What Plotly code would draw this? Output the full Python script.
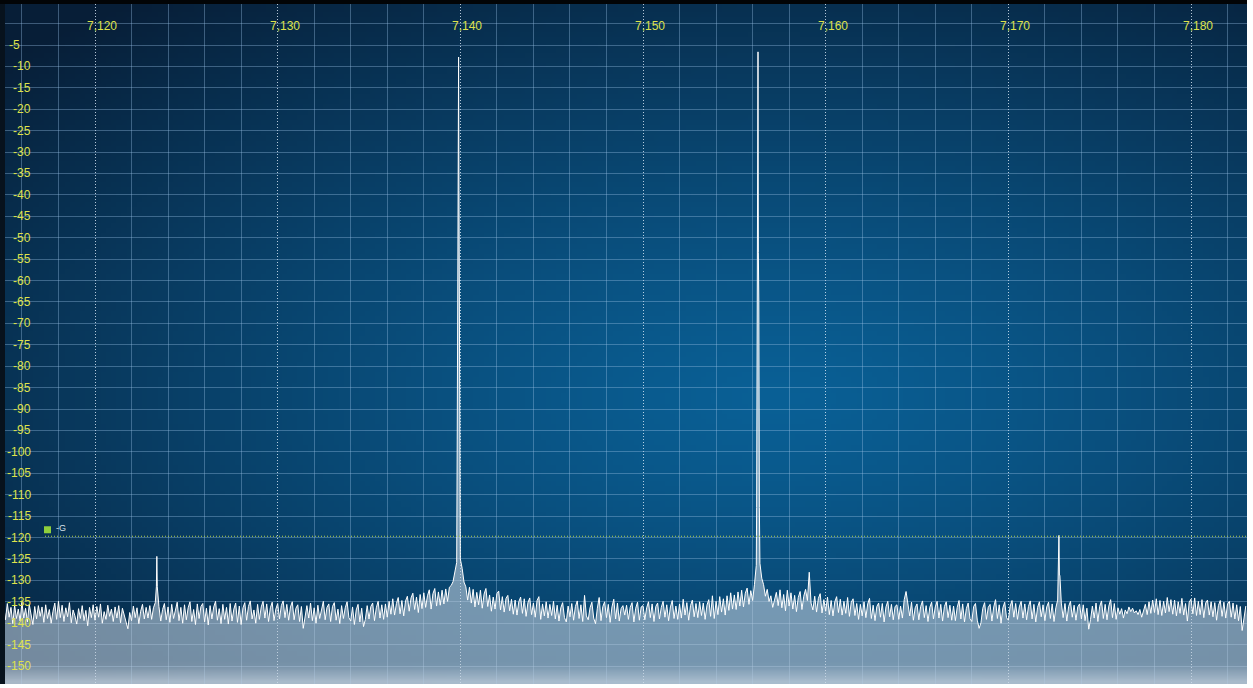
import base64
import struct
import zlib

import numpy as np
import plotly.graph_objects as go

# ---------------------------------------------------------------- data
# Sweep: 7115.0 kHz to 7183.0 kHz, one sample every 0.1 kHz (dBm)
F_START = 7115.0
F_STEP = 0.1

noise_db = [
    # 7115
    -136.0, -139.2, -135.4, -138.6, -136.3, -140.1, -135.8, -138.9, -136.7, -139.5,
    # 7116
    -135.1, -138.8, -136.5, -139.7, -135.6, -138.2, -140.3, -136.1, -139.0, -135.9,
    # 7117
    -138.4, -136.2, -139.8, -135.7, -138.9, -136.8, -140.0, -137.2, -135.3, -139.1,
    # 7118
    -134.9, -138.7, -135.8, -139.6, -136.4, -138.5, -135.2, -139.9, -136.9, -138.3,
    # 7119
    -140.2, -136.6, -138.9, -135.9, -139.4, -137.0, -140.6, -136.3, -138.7, -135.7,
    # 7120
    -139.3, -136.1, -138.6, -135.5, -140.0, -137.3, -139.1, -135.8, -138.4, -136.7,
    # 7121
    -139.6, -136.2, -138.8, -135.9, -139.9, -136.5, -138.3, -140.2, -141.3, -137.5,
    # 7122
    -139.4, -136.0, -138.7, -136.4, -140.1, -137.2, -135.6, -139.0, -136.3, -138.8,
    # 7123
    -135.9, -139.1, -136.4, -135.2, -134.8, -136.1, -139.5, -136.8, -135.4, -139.2,
    # 7124
    -136.2, -139.8, -135.6, -138.9, -136.9, -135.1, -139.4, -136.3, -140.0, -135.7,
    # 7125
    -139.2, -136.4, -135.0, -139.6, -136.8, -140.3, -135.5, -138.9, -136.1, -135.4,
    # 7126
    -139.7, -136.5, -140.4, -135.9, -139.0, -136.2, -134.9, -139.3, -136.6, -140.1,
    # 7127
    -135.6, -139.1, -136.3, -140.2, -135.4, -139.5, -136.7, -135.3, -139.8, -136.0,
    # 7128
    -140.3, -136.4, -135.2, -139.3, -136.1, -134.8, -139.0, -136.9, -140.0, -135.6,
    # 7129
    -139.1, -136.2, -134.9, -138.8, -135.5, -139.6, -136.4, -135.1, -139.4, -136.7,
    # 7130
    -135.4, -139.0, -135.9, -134.8, -138.7, -135.6, -139.3, -136.2, -135.0, -139.2,
    # 7131
    -136.5, -135.7, -139.6, -136.1, -141.2, -139.0, -135.9, -138.8, -135.3, -139.4,
    # 7132
    -136.4, -140.0, -135.8, -138.9, -136.6, -134.9, -139.2, -136.3, -135.5, -139.6,
    # 7133
    -136.1, -135.2, -139.3, -136.7, -140.1, -135.9, -138.9, -136.4, -135.0, -138.7,
    # 7134
    -139.5, -136.2, -140.3, -136.9, -135.6, -139.7, -136.5, -140.8, -139.1, -135.9,
    # 7135
    -139.0, -136.1, -135.3, -139.4, -136.4, -134.9, -138.8, -135.7, -139.1, -135.5,
    # 7136
    -138.6, -134.9, -137.9, -134.3, -138.1, -135.4, -134.0, -137.8, -134.7, -138.3,
    # 7137
    -134.8, -133.7, -137.2, -134.1, -133.0, -136.8, -133.9, -137.5, -133.3, -136.6,
    # 7138
    -132.9, -136.3, -133.6, -132.2, -136.7, -133.1, -131.9, -136.0, -132.7, -135.8,
    # 7139
    -132.3, -135.5, -132.0, -134.9, -131.6, -131.2, -130.3, -128.4, -125.8, -124.5,
    # 7140
    -125.0, -127.2, -130.4, -131.5, -134.6, -131.6, -135.3, -132.1, -136.2, -132.8,
    # 7141
    -135.7, -132.3, -136.5, -133.2, -131.9, -136.1, -133.4, -137.2, -133.9, -136.7,
    # 7142
    -133.1, -132.5, -136.9, -133.8, -137.4, -134.2, -133.5, -137.1, -134.4, -137.9,
    # 7143
    -134.6, -138.1, -135.0, -133.9, -137.7, -134.3, -138.4, -135.2, -134.1, -138.0,
    # 7144
    -135.3, -138.6, -134.7, -133.8, -139.1, -135.5, -138.3, -135.0, -138.8, -135.6,
    # 7145
    -138.2, -134.9, -139.0, -135.8, -139.5, -136.4, -135.2, -138.7, -139.7, -136.0,
    # 7146
    -138.5, -135.4, -139.3, -136.1, -134.8, -138.9, -135.7, -139.6, -133.5, -138.3,
    # 7147
    -139.2, -136.4, -135.1, -138.8, -140.1, -136.5, -134.0, -139.4, -136.1, -135.0,
    # 7148
    -138.7, -135.6, -139.8, -136.2, -134.4, -139.0, -135.3, -139.5, -136.6, -135.9,
    # 7149
    -138.1, -135.8, -139.1, -136.3, -135.2, -139.7, -136.5, -135.1, -139.3, -136.2,
    # 7150
    -135.9, -139.2, -136.4, -135.0, -138.7, -135.5, -139.6, -136.1, -135.3, -139.0,
    # 7151
    -136.3, -134.9, -138.6, -135.7, -139.4, -136.2, -134.7, -138.9, -136.0, -139.1,
    # 7152
    -135.5, -138.8, -134.4, -138.1, -135.2, -139.3, -135.9, -134.6, -138.5, -135.4,
    # 7153
    -138.7, -135.0, -138.2, -135.3, -139.1, -135.8, -134.5, -138.4, -133.6, -138.9,
    # 7154
    -134.9, -138.0, -133.8, -137.4, -134.3, -138.1, -133.6, -137.0, -132.9, -136.7,
    # 7155
    -133.4, -136.8, -132.7, -136.0, -132.3, -136.2, -133.0, -131.8, -135.6, -132.4,
    # 7156
    -134.7, -131.0, -126.5, -124.0, -126.0, -129.5, -131.0, -133.7, -132.1, -134.9,
    # 7157
    -133.6, -136.3, -134.1, -132.8, -135.9, -132.2, -136.4, -133.3, -137.1, -132.3,
    # 7158
    -136.0, -132.9, -136.7, -133.5, -137.3, -134.0, -132.6, -136.8, -133.7, -132.1,
    # 7159
    -134.7, -128.1, -135.3, -136.9, -133.7, -137.4, -134.2, -133.1, -137.6, -134.5,
    # 7160
    -137.2, -133.9, -138.0, -134.7, -138.3, -135.0, -133.8, -137.5, -134.4, -138.1,
    # 7161
    -134.9, -137.7, -134.0, -138.4, -135.1, -134.3, -138.2, -135.4, -139.1, -135.6,
    # 7162
    -138.3, -135.0, -138.7, -135.5, -134.2, -138.9, -135.8, -139.4, -136.1, -135.3,
    # 7163
    -138.6, -135.4, -139.7, -136.2, -134.9, -138.5, -135.6, -139.2, -136.1, -135.7,
    # 7164
    -139.1, -136.0, -138.8, -134.5, -132.6, -135.0, -138.3, -135.1, -139.3, -136.4,
    # 7165
    -135.5, -139.2, -136.1, -134.8, -138.7, -135.9, -139.6, -136.3, -135.1, -139.0,
    # 7166
    -136.2, -134.9, -138.8, -135.6, -139.5, -136.1, -135.0, -138.7, -135.8, -139.3,
    # 7167
    -136.0, -139.4, -136.3, -134.7, -139.0, -135.5, -139.7, -136.6, -135.3, -138.9,
    # 7168
    -139.6, -136.1, -135.4, -139.3, -141.2, -139.9, -136.5, -135.2, -139.1, -136.3,
    # 7169
    -135.6, -139.5, -136.2, -134.5, -138.9, -135.7, -140.0, -136.4, -135.1, -138.7,
    # 7170
    -139.3, -136.0, -134.7, -138.6, -135.4, -139.1, -136.2, -134.9, -138.8, -135.5,
    # 7171
    -139.2, -136.1, -134.8, -139.0, -135.6, -139.7, -136.3, -135.0, -138.5, -135.7,
    # 7172
    -139.4, -136.2, -135.1, -138.9, -135.5, -139.6, -136.4, -134.6, -134.0, -135.3,
    # 7173
    -138.7, -135.4, -139.5, -136.1, -134.9, -138.6, -135.8, -139.3, -136.2, -135.5,
    # 7174
    -139.0, -135.7, -139.4, -136.5, -141.4, -139.1, -136.0, -138.8, -135.3, -139.6,
    # 7175
    -136.1, -134.8, -138.9, -135.6, -139.2, -136.0, -134.5, -138.7, -135.4, -139.1,
    # 7176
    -136.4, -137.9, -136.6, -138.8, -136.9, -137.8, -136.2, -137.3, -136.5, -137.6,
    # 7177
    -137.1, -138.0, -136.8, -138.6, -136.7, -135.6, -138.0, -135.0, -137.7, -134.6,
    # 7178
    -137.5, -134.3, -138.0, -134.7, -138.2, -134.9, -137.6, -134.0, -137.3, -134.5,
    # 7179
    -137.9, -134.6, -138.3, -135.0, -137.7, -134.2, -138.1, -135.4, -139.5, -135.1,
    # 7180
    -134.4, -137.8, -134.1, -138.2, -134.9, -138.0, -134.5, -138.7, -135.3, -134.6,
    # 7181
    -138.1, -135.0, -138.5, -135.2, -139.3, -135.9, -134.7, -138.4, -135.1, -138.8,
    # 7182
    -135.5, -134.9, -138.6, -135.3, -139.0, -135.7, -139.4, -136.1, -141.7, -138.9,
    # 7183
    -136.0,
]

# Carriers, sampled finer than the sweep grid
carrier_a_khz = [7123.36, 7123.385, 7123.41]
carrier_a_db = [-131.5, -124.4, -131.5]

carrier_b_khz = [7139.83, 7139.86, 7139.885, 7139.905, 7139.925, 7139.95, 7139.98]
carrier_b_db = [-97.0, -65.0, -39.0, -7.8, -39.0, -65.0, -97.0]

carrier_c_khz = [7156.22, 7156.25, 7156.275, 7156.295, 7156.315, 7156.34, 7156.37]
carrier_c_db = [-113.0, -65.0, -53.5, -6.6, -53.5, -65.0, -113.0]

carrier_d_khz = [7172.72, 7172.745, 7172.77, 7172.795, 7172.82]
carrier_d_db = [-128.8, -128.8, -119.5, -128.8, -128.8]

squelch_db = -119.7          # "-G" threshold line
x_tick_khz = [7120, 7130, 7140, 7150, 7160, 7170, 7180]
y_tick_db = list(range(-5, -151, -5))

# ---------------------------------------------------------------- merge sweep + carriers
freqs = [round(F_START + i * F_STEP, 3) for i in range(len(noise_db))]
pairs = list(zip(freqs, noise_db))
for cf, cd in [(carrier_a_khz, carrier_a_db), (carrier_b_khz, carrier_b_db),
               (carrier_c_khz, carrier_c_db), (carrier_d_khz, carrier_d_db)]:
    lo, hi = min(cf), max(cf)
    pairs = [p for p in pairs if not (lo <= p[0] <= hi)]
    pairs += list(zip(cf, cd))
pairs.sort()
spec_f = [p[0] for p in pairs]
spec_db = [p[1] for p in pairs]

# ---------------------------------------------------------------- geometry
W, H = 1253, 688
PX_L, PX_R, PX_T, PX_B = 5, 1247, 4, 684
KHZ_PX = 18.267          # pixels per kHz
DB_PX = 4.283            # pixels per dB
x_rng = [7120 - (95 - PX_L) / KHZ_PX, 7120 + (PX_R - 95) / KHZ_PX]
y_rng = [-5 - (PX_B - 45) / DB_PX, -5 + (45 - PX_T) / DB_PX]
dom_x = [PX_L / W, PX_R / W]
dom_y = [(H - PX_B) / H, (H - PX_T) / H]


# ---------------------------------------------------------------- background gradient image
def png_uri(rgb):
    h, w, _ = rgb.shape
    raw = b"".join(b"\x00" + rgb[r].tobytes() for r in range(h))

    def chunk(tag, data):
        c = tag + data
        return struct.pack(">I", len(data)) + c + struct.pack(">I", zlib.crc32(c) & 0xFFFFFFFF)

    png = (b"\x89PNG\r\n\x1a\n"
           + chunk(b"IHDR", struct.pack(">IIBBBBB", w, h, 8, 2, 0, 0, 0))
           + chunk(b"IDAT", zlib.compress(raw, 9))
           + chunk(b"IEND", b""))
    return "data:image/png;base64," + base64.b64encode(png).decode()


gw, gh = 240, 132
u = np.linspace(0, 1, gw)[None, :]
v = np.linspace(0, 1, gh)[:, None]
d = np.sqrt(((u - 0.62) / 0.85) ** 2 + ((v - 0.58) / 0.75) ** 2)
t = np.clip(d, 0, 1) ** 1.25
bright = np.array([10, 96, 150], float)
dark = np.array([7, 30, 55], float)
img = bright * (1 - t[..., None]) + dark * t[..., None]
# light band along the bottom edge
band = np.clip((v - 0.975) / 0.025, 0, 1)[..., None] * np.ones_like(u)[..., None]
img = img * (1 - 0.6 * band) + np.array([210, 220, 230]) * 0.6 * band
bg_uri = png_uri(np.clip(img, 0, 255).astype(np.uint8))

# ---------------------------------------------------------------- figure
fig = go.Figure()
fig.add_trace(go.Scatter(x=[x_rng[0] - 1, x_rng[1] + 1], y=[-170, -170], mode="lines",
                         line=dict(width=0), hoverinfo="skip", showlegend=False))
fig.add_trace(go.Scatter(x=spec_f, y=spec_db, mode="lines", fill="tonexty",
                         fillcolor="rgba(196,210,224,0.58)",
                         line=dict(color="#ffffff", width=1), showlegend=False))

yellow = "#dfe24c"
label_font = dict(family="Liberation Sans, Arial", size=12, color=yellow)
ann = []
for f in x_tick_khz:
    ann.append(dict(x=f, xref="x", y=1 - 17 / H, yref="paper", xshift=7,
                    text=f"{f // 1000},{f % 1000:03d}", showarrow=False, font=label_font))
for v_db in y_tick_db:
    if v_db == -5:
        # the top label sits flush with the left edge
        ann.append(dict(x=7 / W, xref="paper", y=v_db, yref="y", xanchor="left",
                        text=str(v_db), showarrow=False, font=label_font))
    else:
        ann.append(dict(x=33 / W, xref="paper", y=v_db, yref="y", xanchor="right",
                        text=str(v_db), showarrow=False, font=label_font))
ann.append(dict(x=54 / W, xref="paper", y=squelch_db, yref="y", yshift=8, xanchor="left",
                text="-G", showarrow=False,
                font=dict(family="Liberation Sans, Arial", size=9, color="#d8e0e8")))

shapes = [
    # squelch line and handle
    dict(type="line", xref="paper", yref="y", x0=45 / W, x1=PX_R / W, y0=squelch_db, y1=squelch_db,
         line=dict(color="#b9d24a", width=1, dash="1px,2px"), layer="above"),
    dict(type="rect", xref="paper", yref="y", ysizemode="pixel", yanchor=squelch_db,
         x0=44 / W, x1=51 / W, y0=3, y1=10, fillcolor="#8fcf3c", line=dict(width=0), layer="above"),
    # frame strips
    dict(type="rect", xref="paper", yref="paper", x0=0, x1=PX_L / W, y0=dom_y[0], y1=1,
         fillcolor="#07121d", line=dict(width=0), layer="below"),
    dict(type="rect", xref="paper", yref="paper", x0=0, x1=PX_R / W, y0=dom_y[1], y1=1,
         fillcolor="#020406", line=dict(width=0), layer="below"),
]

fig.update_layout(
    width=W, height=H, margin=dict(l=0, r=0, t=0, b=0),
    paper_bgcolor="#ffffff", plot_bgcolor="rgba(0,0,0,0)",
    images=[dict(source=bg_uri, xref="paper", yref="paper", x=dom_x[0], y=dom_y[1],
                 sizex=dom_x[1] - dom_x[0], sizey=dom_y[1] - dom_y[0],
                 sizing="stretch", layer="below")],
    xaxis=dict(domain=dom_x, range=x_rng, showticklabels=False, ticks="", zeroline=False,
               tick0=7120, dtick=10, showgrid=True, gridcolor="rgba(225,238,250,0.8)",
               griddash="1px,2px", gridwidth=1,
               minor=dict(tick0=7116, dtick=2, showgrid=True, griddash="solid",
                          gridcolor="rgba(150,190,225,0.38)", gridwidth=1)),
    yaxis=dict(domain=dom_y, range=y_rng, showticklabels=False, ticks="", zeroline=False,
               tick0=0, dtick=5, showgrid=True, gridcolor="rgba(150,190,225,0.38)", gridwidth=1),
    annotations=ann, shapes=shapes, showlegend=False,
)

fig.write_html("out.html")
